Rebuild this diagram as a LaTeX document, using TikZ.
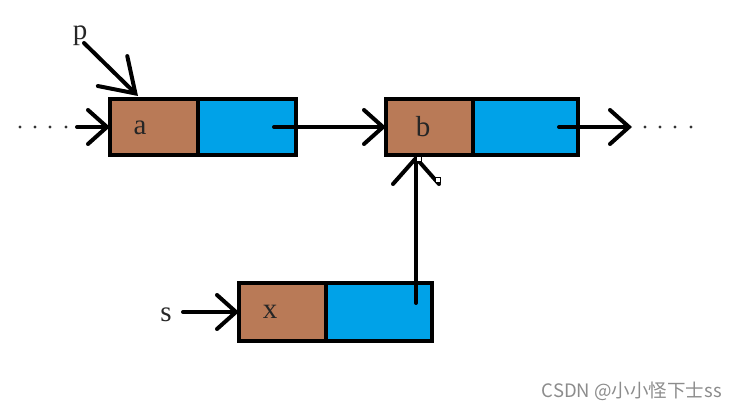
\documentclass[tikz,border=0pt]{standalone}
\usepackage{fontspec}
\setmainfont{Liberation Serif}
\newfontfamily\cjk{Noto Sans CJK SC}
\usetikzlibrary{arrows.meta}
\definecolor{databrown}{RGB}{185,122,87}
\definecolor{nextblue}{RGB}{0,162,232}
\tikzset{
  cell/.style={draw=black, line width=4pt, minimum height=56pt, inner sep=0pt, outer sep=0pt},
  datacell/.style={cell, fill=databrown},
  nextcell/.style={cell, fill=nextblue},
  lbl/.style={font=\fontsize{29}{29}\selectfont, text=black!85, inner sep=0pt},
  ptr/.style={line width=4pt, line cap=round, -{Straight Barb[length=19pt,width=34pt,line cap=round]}},
  dot/.style={fill=black!80, circle, inner sep=0pt, minimum size=3.2pt},
  handle/.style={draw=black, fill=white, line width=0.6pt, minimum size=5pt, inner sep=0pt},
}
\begin{document}
\begin{tikzpicture}[x=1pt,y=-1pt]
\useasboundingbox (0,0) rectangle (737,411);
% node a
\node[datacell, minimum width=88pt] (adata) at (154,127) {};
\node[nextcell, minimum width=98pt] (anext) at (247,127) {};
% node b
\node[datacell, minimum width=87pt] (bdata) at (429.5,127) {};
\node[nextcell, minimum width=105pt] (bnext) at (525.5,127) {};
% node x
\node[datacell, minimum width=87pt, minimum height=58pt] (xdata) at (282.5,312) {};
\node[nextcell, minimum width=106pt, minimum height=58pt] (xnext) at (379,312) {};
% labels
\node[lbl] (ta) at (140,128) {a};
\node[lbl] (tb) at (423,127) {b};
\node[lbl] (tx) at (270,312) {x};
\node[lbl, anchor=base] (tp) at (80,40) {p};
\node[lbl, anchor=base] (ts) at (166,322) {s};
% dots
\foreach \i/\xx in {1/20,2/35,3/50,4/66} \node[dot] (ld\i) at (\xx,127) {};
\foreach \i/\xx in {1/645,2/660,3/675,4/691} \node[dot] (rd\i) at (\xx,127) {};
% pointer coordinates
\coordinate (lstart) at (77,127);
\coordinate (pstart) at (84,43);
\coordinate (ptip) at (138,96);
\coordinate (aptr) at (274,127);
\coordinate (bptr) at (559,127);
\coordinate (bend) at (632,127);
\coordinate (sstart) at (183,312);
\coordinate (xptr) at (416,303);
% connectors
\draw[ptr] (lstart) -- (adata.west);
\draw[line width=4pt, line cap=round, -{Straight Barb[length=32pt,width=42pt,line cap=round]}] (pstart) -- (ptip);
\draw[ptr] (aptr) -- (bdata.west);
\draw[ptr] (bptr) -- (bend);
\draw[ptr] (sstart) -- (xdata.west);
\draw[line width=4pt, line cap=round, -{Straight Barb[length=26pt,width=46pt,line cap=round]}] (xptr) -- (xptr |- bdata.south);
% selection handles
\node[handle] (h1) at (419,159) {};
\node[handle] (h2) at (438,180) {};
% watermark
\node[anchor=east, inner sep=0pt, text=black!45, font=\fontsize{18.5}{18.5}\selectfont\cjk] (wm) at (722,391) {CSDN @小小怪下士ss};
\end{tikzpicture}
\end{document}
